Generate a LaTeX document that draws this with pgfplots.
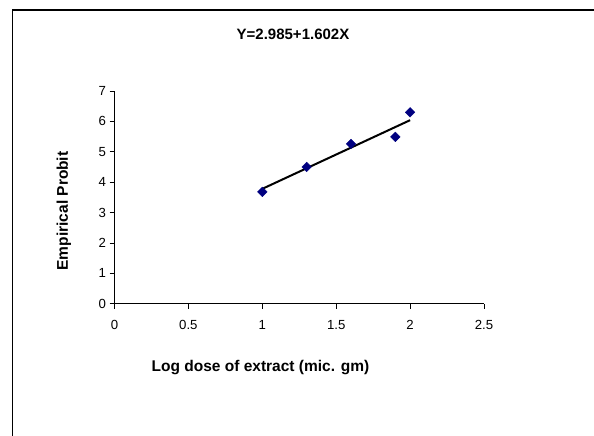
\documentclass[border=0pt]{standalone}
\usepackage{fontspec}
\setmainfont{Liberation Sans}
\usepackage{pgfplots}
\pgfplotsset{compat=1.18}
\definecolor{navyx}{RGB}{0,0,128}
\begin{document}
\begin{tikzpicture}[x=1pt,y=1pt]
\useasboundingbox (0,0) rectangle (594,436);
\draw[line width=1.3pt] (12.6,0) -- (12.6,426) -- (594,426);
\node[font=\fontsize{15}{18}\selectfont\bfseries] at (293,402) {Y=2.985+1.602X};
\begin{axis}[
  at={(114.5pt,132.3pt)}, anchor=south west,
  scale only axis, width=369.5pt, height=212.7pt,
  xmin=0, xmax=2.5, ymin=0, ymax=7,
  axis x line=bottom, axis y line=left,
  axis line style={-, line width=0.8pt},
  tick align=outside, major tick length=5pt,
  tick style={line width=0.8pt, black},
  xtick={0,0.5,1,1.5,2,2.5}, ytick={0,1,2,3,4,5,6,7},
  /pgf/number format/assume math mode=true,
  ticklabel style={font=\fontsize{13.2}{15}\selectfont},
  xticklabel style={yshift=-8pt},
  xlabel={Log dose of extract (mic. gm)},
  ylabel={Empirical Probit},
  label style={font=\fontsize{15.5}{18}\selectfont\bfseries},
  xlabel style={at={(axis description cs:0.395,-0.298)}, anchor=center},
  ylabel style={at={(axis description cs:-0.137,0.436)}, anchor=center, rotate=0},
  clip=false,
]
\addplot[black, line width=2pt] coordinates {(1,3.78) (2,6.04)};
\addplot[only marks, mark=square*, mark size=3.4pt, mark options={rotate=45, fill=navyx, draw=navyx}]
  coordinates {(1.0,3.68) (1.3,4.50) (1.6,5.26) (1.9,5.49) (2.0,6.30)};
\end{axis}
\end{tikzpicture}
\end{document}
